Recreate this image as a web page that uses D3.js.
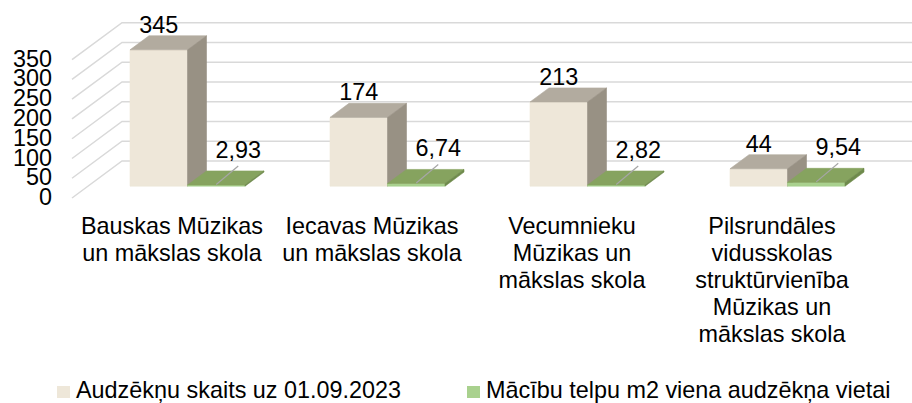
<!DOCTYPE html>
<html>
<head>
<meta charset="utf-8">
<script src="https://cdn.jsdelivr.net/npm/d3@7"></script>
<style>
  html, body { margin: 0; padding: 0; background: #fff; }
  svg { display: block; font-family: "Liberation Sans", Arial, sans-serif; }
</style>
</head>
<body>
<div id="chart"></div>
<script>
// chart data
var categories = [
    "Bauskas Mūzikas un mākslas skola",
    "Iecavas Mūzikas un mākslas skola",
    "Vecumnieku Mūzikas un mākslas skola",
    "Pilsrundāles vidusskolas struktūrvienība Mūzikas un mākslas skola"
];
var students = [345, 174, 213, 44];
var areaPerStudent = [2.93, 6.74, 2.82, 9.54];
var yTicks = [0, 50, 100, 150, 200, 250, 300, 350];
var seriesNames = ["Audzēkņu skaits uz 01.09.2023", "Mācību telpu m2 viena audzēkņa vietai"];

var width = 912, height = 403;
var fontSize = 23.4;

var svg = d3.select("#chart").append("svg")
    .attr("width", width)
    .attr("height", height);

var x = d3.scaleBand()
    .domain(categories)
    .range([72, 872]);

var y = d3.scaleLinear()
    .domain([0, 350])
    .range([198, 59.7]);

// depth of the 3d floor
var depth = { dx: 50, dy: -37 };
var z0 = 0.32, z1 = 0.70;
var barW = 57.5;

function P(px, v, z) {
    return [px + depth.dx * z, y(v) + depth.dy * z];
}

function box(g, x0, x1, v, cols) {
    var faces = [
        { pts: [P(x0, 0, z0), P(x1, 0, z0), P(x1, v, z0), P(x0, v, z0)], fill: cols.front },
        { pts: [P(x0, v, z0), P(x1, v, z0), P(x1, v, z1), P(x0, v, z1)], fill: cols.top },
        { pts: [P(x1, 0, z0), P(x1, 0, z1), P(x1, v, z1), P(x1, v, z0)], fill: cols.side }
    ];
    g.selectAll(null)
        .data(faces)
        .enter().append("polygon")
        .attr("points", function(d) { return d.pts.map(function(p) { return p.join(","); }).join(" "); })
        .attr("fill", function(d) { return d.fill; })
        .attr("stroke", function(d) { return d.fill; })
        .attr("stroke-width", 0.6);
}

var beige = { front: "#eee7d9", top: "#b2ab9f", side: "#989184" };
var green = { front: "#a9d18e", top: "#86a35f", side: "#6e8a4c" };

// gridlines (side wall + back wall)
var grid = svg.append("g");
grid.selectAll("polyline")
    .data(yTicks)
    .enter().append("polyline")
    .attr("points", function(t) {
        var a = P(72, t, 0), b = P(72, t, 1);
        return [a, b, [width, b[1]]].map(function(p) { return p.join(","); }).join(" ");
    })
    .attr("fill", "none")
    .attr("stroke", "#d9d9d9")
    .attr("stroke-width", 1.5);

// y axis labels
svg.append("g").selectAll("text")
    .data(yTicks)
    .enter().append("text")
    .attr("x", 52)
    .attr("y", function(t) { return y(t); })
    .attr("dy", "0.3em")
    .attr("text-anchor", "end")
    .attr("font-size", fontSize)
    .attr("fill", "#000")
    .text(function(t) { return t; });

var fmt = function(v) { return d3.format(".2f")(v).replace(".", ","); };

var bars = svg.append("g");
categories.forEach(function(c, i) {
    var cx = x(c) + x.bandwidth() / 2 - 0.5;
    var g = bars.append("g");
    box(g, cx - barW, cx, students[i], beige);
    box(g, cx, cx + barW, areaPerStudent[i], green);

    // value labels
    var bFront = P(cx - barW / 2, students[i], z0);
    var bBack = P(cx - barW / 2, students[i], z1);
    g.append("text")
        .attr("x", bFront[0])
        .attr("y", bBack[1] - 3)
        .attr("text-anchor", "middle")
        .attr("font-size", fontSize)
        .text(students[i]);

    var gFront = P(cx + barW / 2, areaPerStudent[i], z0);
    var gBack = P(cx + barW / 2, areaPerStudent[i], z1);
    var lx = gFront[0] + 22, ly = gBack[1] - 13;
    g.append("line")
        .attr("x1", lx).attr("y1", ly + 8)
        .attr("x2", gFront[0]).attr("y2", gFront[1] - 0.5)
        .attr("stroke", "#a6a6a6")
        .attr("stroke-width", 1.2);
    g.append("text")
        .attr("x", lx)
        .attr("y", ly)
        .attr("text-anchor", "middle")
        .attr("font-size", fontSize)
        .text(fmt(areaPerStudent[i]));
});

// category labels, wrapped
function wrap(sel, maxW) {
    sel.each(function(d) {
        var t = d3.select(this);
        var words = d.split(" ");
        var lines = [], line = [];
        var probe = t.append("tspan");
        words.forEach(function(w) {
            var test = line.concat([w]).join(" ");
            probe.text(test);
            if (probe.node().getComputedTextLength() > maxW && line.length) {
                lines.push(line.join(" "));
                line = [w];
            } else {
                line.push(w);
            }
        });
        lines.push(line.join(" "));
        probe.remove();
        t.selectAll("tspan.l")
            .data(lines)
            .enter().append("tspan")
            .attr("class", "l")
            .attr("x", t.attr("x"))
            .attr("dy", function(l, k) { return k === 0 ? 0 : 27; })
            .text(function(l) { return l; });
    });
}

svg.append("g").selectAll("text")
    .data(categories)
    .enter().append("text")
    .attr("x", function(c) { return x(c) + x.bandwidth() / 2; })
    .attr("y", 234)
    .attr("text-anchor", "middle")
    .attr("font-size", fontSize)
    .attr("fill", "#000")
    .call(wrap, 196);

// legend
var legendX = [57, 467];
var legendCols = ["#eee7d9", "#a9d18e"];
var legend = svg.append("g").selectAll("g")
    .data(seriesNames)
    .enter().append("g");
legend.append("rect")
    .attr("x", function(d, i) { return legendX[i]; })
    .attr("y", 386)
    .attr("width", 13)
    .attr("height", 12)
    .attr("fill", function(d, i) { return legendCols[i]; });
legend.append("text")
    .attr("x", function(d, i) { return legendX[i] + 19; })
    .attr("y", 398)
    .attr("font-size", fontSize)
    .text(function(d) { return d; });
</script>
</body>
</html>
